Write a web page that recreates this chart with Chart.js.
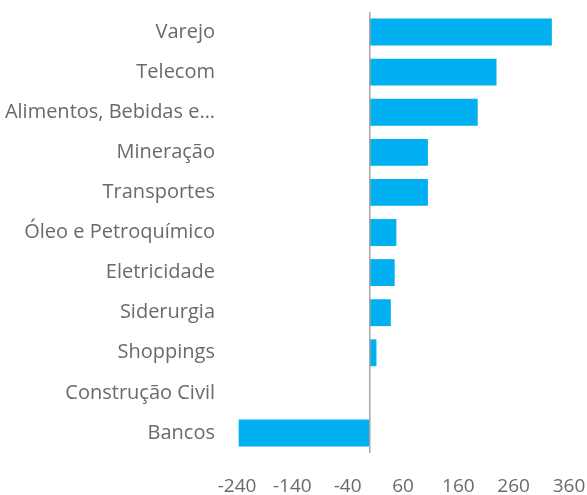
<!DOCTYPE html>
<html>
<head>
<meta charset="utf-8">
<script src="https://cdn.jsdelivr.net/npm/chart.js@4/dist/chart.umd.min.js"></script>
<style>
html,body{margin:0;padding:0;background:#fff;}
#wrap{width:587px;height:495px;}
</style>
</head>
<body>
<div id="wrap"><canvas id="c" width="587" height="495"></canvas></div>
<script>
const categories = ["Varejo","Telecom","Alimentos, Bebidas e…","Mineração","Transportes","Óleo e Petroquímico","Eletricidade","Siderurgia","Shoppings","Construção Civil","Bancos"];
const values = [329, 229, 195, 105, 105, 48, 45, 38, 12, 0, -237];
const tickValues = [-240, -140, -40, 60, 160, 260, 360];

const textColor = '#6a6a6a';
const fontFamily = '"Open Sans", "Noto Sans", sans-serif';

new Chart(document.getElementById('c'), {
  type: 'bar',
  data: {
    labels: categories,
    datasets: [{
      data: values,
      backgroundColor: '#00B0F0',
      borderWidth: 0,
      categoryPercentage: 1,
      barPercentage: 0.67
    }]
  },
  options: {
    indexAxis: 'y',
    responsive: false,
    animation: false,
    devicePixelRatio: 1,
    layout: { padding: { top: 0, right: 18, bottom: 0, left: 0 } },
    plugins: { legend: { display: false }, tooltip: { enabled: false } },
    scales: {
      x: {
        min: tickValues[0],
        max: tickValues[tickValues.length - 1],
        afterBuildTicks: (s) => { s.ticks = tickValues.map(v => ({ value: v })); },
        afterFit: (s) => { s.paddingRight = 0; s.paddingLeft = 0; s.height = 42; },
        border: { display: false },
        grid: { display: false, drawTicks: true, tickLength: 21 },
        ticks: {
          color: textColor,
          font: { family: fontFamily, size: 19, lineHeight: 1 },
          padding: 3,
          maxRotation: 0,
          autoSkip: false
        }
      },
      y: {
        border: { display: false },
        grid: { display: false, drawTicks: true, tickLength: 22 },
        afterFit: (s) => { s.width = 237; s.paddingTop = 12; s.paddingBottom = 0; },
        ticks: {
          color: textColor,
          font: { family: fontFamily, size: 20 },
          padding: 0,
          autoSkip: false
        }
      }
    }
  },
  plugins: [{
    id: 'zeroLine',
    afterDatasetsDraw(chart) {
      const x = chart.scales.x.getPixelForValue(0);
      const a = chart.chartArea;
      const ctx = chart.ctx;
      ctx.save();
      ctx.strokeStyle = '#a6a6a6';
      ctx.lineWidth = 1.5;
      ctx.beginPath();
      ctx.moveTo(x, a.top);
      ctx.lineTo(x, a.bottom);
      ctx.stroke();
      ctx.restore();
    }
  }]
});
</script>
</body>
</html>
